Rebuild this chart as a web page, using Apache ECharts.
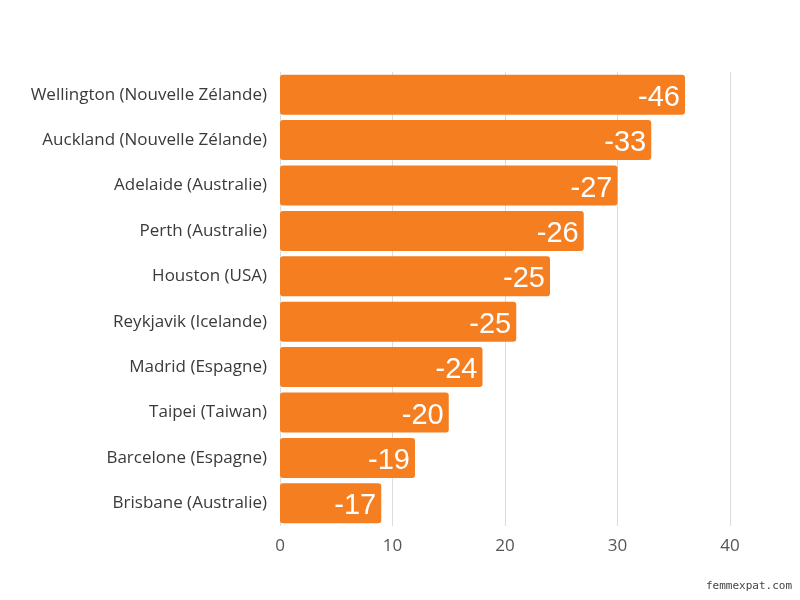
<!DOCTYPE html>
<html>
<head>
<meta charset="utf-8">
<script src="https://cdn.jsdelivr.net/npm/echarts@6/dist/echarts.min.js"></script>
<style>
  html, body { margin: 0; padding: 0; background: #fff; }
  #main { width: 800px; height: 600px; }
</style>
</head>
<body>
<div id="main"></div>
<script>
// villes, de haut en bas
var cities = [
    'Wellington (Nouvelle Zélande)',
    'Auckland (Nouvelle Zélande)',
    'Adelaide (Australie)',
    'Perth (Australie)',
    'Houston (USA)',
    'Reykjavik (Icelande)',
    'Madrid (Espagne)',
    'Taipei (Taiwan)',
    'Barcelone (Espagne)',
    'Brisbane (Australie)'
];
var barValues = [36, 33, 30, 27, 24, 21, 18, 15, 12, 9];
// texte affiché dans les barres
var barLabels = ['-46', '-33', '-27', '-26', '-25', '-25', '-24', '-20', '-19', '-17'];
var xTicks = [0, 10, 20, 30, 40];

var chartDom = document.getElementById('main');
var myChart = echarts.init(chartDom);
var option = {
    animation: false,
    grid: { left: 280, right: 70, top: 72, bottom: 74, containLabel: false },
    graphic: [{
        type: 'text',
        right: 8,
        bottom: 8,
        style: { text: 'femmexpat.com', font: '11px "DejaVu Sans Mono"', fill: '#444' }
    }],
    xAxis: {
        type: 'value',
        min: xTicks[0],
        max: xTicks[xTicks.length - 1],
        interval: 10,
        axisLine: { show: false },
        axisTick: { show: false },
        axisLabel: { color: '#555', fontSize: 17, fontFamily: 'Open Sans', margin: 12 },
        splitLine: { lineStyle: { color: '#dcdcdc', width: 1 } }
    },
    yAxis: {
        type: 'category',
        inverse: true,
        data: cities,
        axisLine: { show: false },
        axisTick: { show: false },
        axisLabel: { color: '#3a3a3a', fontSize: 17, fontFamily: 'Open Sans', margin: 13 }
    },
    series: [{
        type: 'bar',
        data: barValues,
        barCategoryGap: '12%',
        itemStyle: { color: '#F47E20', borderRadius: 3 },
        label: {
            show: true,
            position: 'insideRight',
            offset: [0, 3],
            distance: 5,
            color: '#fff',
            fontSize: 29,
            fontFamily: 'Liberation Sans',
            formatter: function (p) { return barLabels[p.dataIndex]; }
        }
    }]
};
myChart.setOption(option);
</script>
</body>
</html>
